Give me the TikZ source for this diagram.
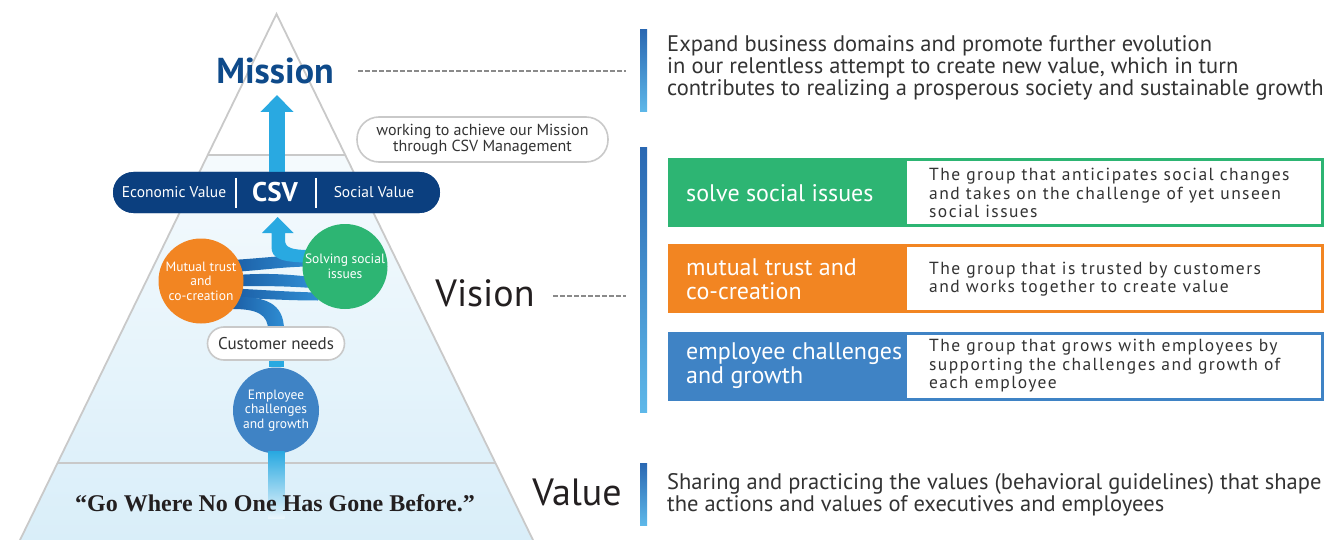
\documentclass[tikz,border=0pt]{standalone}
\usepackage{fontspec}
\setmainfont{PT Sans}
\newfontfamily\quotefont{Liberation Serif}
\usetikzlibrary{calc,arrows.meta}
\definecolor{navy}{HTML}{0B3F7F}
\definecolor{missionblue}{HTML}{0E4A8A}
\definecolor{cgreen}{HTML}{2DB573}
\definecolor{corange}{HTML}{F28522}
\definecolor{cblue}{HTML}{3F83C5}
\definecolor{lblue}{HTML}{29A9E1}
\definecolor{dblue}{HTML}{1C5FA6}
\definecolor{mblue}{HTML}{2F8DD3}
\definecolor{pgray}{HTML}{C9C9C9}
\definecolor{dashgray}{HTML}{8A8A8A}
\definecolor{txt}{HTML}{333333}
\definecolor{ink}{HTML}{231F20}
\definecolor{pyrbot}{HTML}{D9EEF9}
\definecolor{pyrmid}{HTML}{F3F9FD}
\definecolor{barTop}{HTML}{2A68B2}
\definecolor{barBot}{HTML}{5EB8E9}
\tikzset{
  pill/.style={draw=pgray, line width=1.6pt, fill=white, text=txt, align=center},
  circ/.style={circle, inner sep=0pt, text=white, align=center, font=\fontsize{13.5}{14.5}\selectfont},
  big/.style={text=ink, font=\fontsize{38}{40}\selectfont, inner sep=0pt},
  dashline/.style={draw=dashgray, line width=1.4pt, dash pattern=on 4.5pt off 2.5pt},
  body/.style={anchor=west, align=left, inner sep=0pt, text=txt, font=\fontsize{22.5}{22}\selectfont},
  head/.style={anchor=west, align=left, inner sep=0pt, text=white, font=\fontsize{24}{24}\selectfont},
  desc/.style={anchor=west, align=left, inner sep=0pt, text=txt, font=\fontsize{17.5}{18.5}\selectfont\addfontfeature{LetterSpace=8}},
  sidebar/.style={top color=barTop, bottom color=barBot},
  ribbon/.style={left color=dblue, right color=mblue},
  pyrline/.style={draw=pgray, line width=1.8pt}
}
\begin{document}
\begin{tikzpicture}[x=1pt,y=-1pt]
\useasboundingbox (0,0) rectangle (1332,540);
% pyramid
\coordinate (apex) at (276.5,14);
\coordinate (bl) at (20,540);
\coordinate (br) at (533,540);
\shade[top color=white, middle color=pyrmid, bottom color=pyrbot] (apex) -- (bl) -- (br) -- cycle;
\fill[white] (apex) -- ($(apex)!0.268!(bl)$) -- ($(apex)!0.268!(br)$) -- cycle;
\draw[pyrline] (bl) -- (apex) -- (br);
\draw[pyrline] ($(apex)!0.268!(bl)$) -- ($(apex)!0.268!(br)$);
\draw[pyrline] ($(apex)!0.8536!(bl)$) -- ($(apex)!0.8536!(br)$);

% labels on the left
\node[text=missionblue, font=\bfseries\fontsize{36}{38}\selectfont, inner sep=0pt] (mission) at (275,71) {Mission};
\node[big] (vision) at (485,293) {Vision};
\node[big] (value) at (577,492) {Value};
\coordinate (m1) at (358,71); \coordinate (m2) at (626,71);
\draw[dashline] (m1) -- (m2);
\coordinate (v1) at (553,296); \coordinate (v2) at (626,296);
\draw[dashline] (v1) -- (v2);

% mission arrow
\coordinate (marrow) at (277,95);
\node[fill=navy, rounded corners=20.5pt, minimum width=327pt, minimum height=41pt, inner sep=0pt] (csv) at (276.5,192.5) {};
\draw[lblue, line width=16pt, -{Triangle[width=32pt,length=17pt]}] (csv.north -| marrow) -- (marrow);
\node[fill=navy, rounded corners=20.5pt, minimum width=327pt, minimum height=41pt, inner sep=0pt] at (csv) {};
\draw[white, line width=1.2pt] (236,178) -- (236,208);
\draw[white, line width=1.2pt] (316,178) -- (316,208);
\node[text=white, font=\fontsize{15.5}{16}\selectfont] (ev) at (174,192.5) {Economic Value};
\node[text=white, font=\bfseries\fontsize{27}{28}\selectfont] (csvt) at (275,192.5) {CSV};
\node[text=white, font=\fontsize{15.5}{16}\selectfont] (sv) at (374,192.5) {Social Value};

\node[pill, rounded corners=22pt, minimum width=251pt, minimum height=45pt, inner sep=0pt, font=\fontsize{16}{16}\selectfont] (csvm) at (482.5,139.5) {working to achieve our Mission\\through CSV Management};

% ribbons
\shade[ribbon] (232,260) .. controls (265,258) and (285,255) .. (312,255) -- (312,266.5) .. controls (285,266.5) and (265,270) .. (232,272) -- cycle;
\shade[ribbon] (236,275) .. controls (265,273) and (285,274) .. (312,277) -- (312,288) .. controls (285,286) and (265,286) .. (236,286) -- cycle;
\shade[ribbon] (234,288.5) .. controls (265,290) and (290,292) .. (318,292.5) -- (318,300.5) .. controls (290,300.5) and (265,299) .. (234,297.5) -- cycle;
\shade[ribbon] (233,297) .. controls (265,296) and (284,303) .. (284,330) -- (268,330) .. controls (268,315) and (258,309) .. (233,309) -- cycle;
% light blue arrow to CSV
\fill[lblue] (271.5,233) -- (271.5,247) .. controls (271.5,258) and (280,262.5) .. (310,262.5) -- (310,250) .. controls (292,250) and (285,248) .. (285,240) -- (285,233) -- (293.5,233) -- (277.7,217) -- (262,233) -- cycle;

% circles
\node[circ, fill=corange, minimum size=85pt] (mt) at (201,281) {Mutual trust\\and\\co-creation};
\node[circ, fill=cgreen, minimum size=85pt] (ss) at (345,266.5) {Solving social\\issues};

\node[pill, rounded corners=16.5pt, minimum width=137pt, minimum height=33pt, inner sep=0pt, font=\fontsize{17}{17}\selectfont] (cn) at (276,343.5) {Customer needs};
\node[circ, fill=cblue, minimum size=86pt] (ec) at (276,410.5) {Employee\\challenges\\and growth};
\draw[lblue, line width=15pt] (cn.south) -- (ec.north);
\coordinate (vbot) at (276.5,518);
\shade[top color=lblue, bottom color=pyrbot!60!white] ($(ec.south)+(-8,-2)$) rectangle ($(vbot)+(8,0)$);
\node[text=ink, font=\quotefont\bfseries\fontsize{24}{26}\selectfont] (quote) at (275,503) {“Go Where No One Has Gone Before.”};

% right side
\shade[sidebar] (640,30) rectangle (647,112);
\shade[sidebar] (640,148) rectangle (647,412);
\shade[sidebar] (640,463) rectangle (647,525);
\node[body] (mtext) at (667,68) {Expand business domains and promote further evolution\\in our relentless attempt to create new value, which in turn\\contributes to realizing a prosperous society and sustainable growth};
\node[body] (vtext) at (667,495) {Sharing and practicing the values (behavioral guidelines) that shape\\the actions and values of executives and employees};

% boxes
\fill[cgreen] (668,158) rectangle (1324,227);
\fill[white] (907,161) rectangle (1321,224);
\fill[corange] (668,244) rectangle (1324,313);
\fill[white] (907,247) rectangle (1321,310);
\fill[cblue] (668,332) rectangle (1324,401);
\fill[white] (907,335) rectangle (1321,398);

\node[head] (h1) at (686,193) {solve social issues};
\node[head] (h2) at (686,279) {mutual trust and\\co-creation};
\node[head] (h3) at (686,366) {employee challenges\\and growth};
\node[desc] (d1) at (929,193) {The group that anticipates social changes\\and takes on the challenge of yet unseen\\social issues};
\node[desc] (d2) at (929,279) {The group that is trusted by customers\\and works together to create value};
\node[desc] (d3) at (929,366) {The group that grows with employees by\\supporting the challenges and growth of\\each employee};
\end{tikzpicture}
\end{document}
